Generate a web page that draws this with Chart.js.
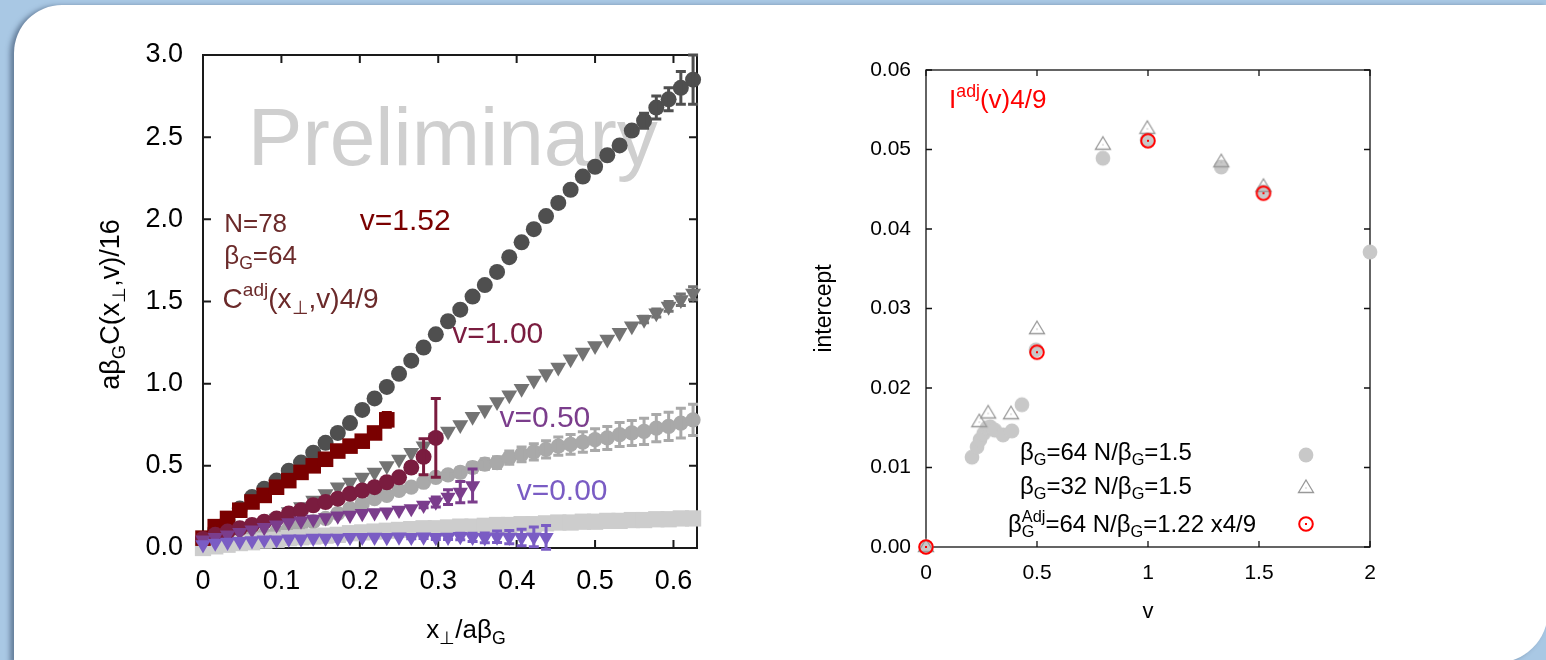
<!DOCTYPE html>
<html>
<head>
<meta charset="utf-8">
<script src="https://cdn.jsdelivr.net/npm/chart.js@4.4.1/dist/chart.umd.min.js"></script>
<style>
  html, body { margin: 0; padding: 0; width: 1546px; height: 660px; overflow: hidden; background: #a9c8e4; }
  #panel { position: absolute; left: 14px; top: 5px; width: 1534px; height: 658px; background: #fff;
           border-radius: 48px 0 52px 0; box-shadow: -4px 1px 5px rgba(45, 65, 95, 0.55); }
  #left { position: absolute; left: 0; top: 0; }
  #right { position: absolute; left: 780px; top: 0; }
</style>
</head>
<body>
<div id="panel"></div>
<canvas id="left" width="780" height="660"></canvas>
<canvas id="right" width="766" height="660"></canvas>
<script>
const FONT = '"Liberation Sans", Arial, Helvetica, sans-serif';

// ---- left panel: x_perp / a beta_G grid (steps of 1/64) ----
const xGrid = [0, 0.0156, 0.0313, 0.0469, 0.0625, 0.0781, 0.0938, 0.1094, 0.125, 0.1406,
  0.1563, 0.1719, 0.1875, 0.2031, 0.2188, 0.2344, 0.25, 0.2656, 0.2813, 0.2969,
  0.3125, 0.3281, 0.3438, 0.3594, 0.375, 0.3906, 0.4063, 0.4219, 0.4375, 0.4531,
  0.4688, 0.4844, 0.5, 0.5156, 0.5313, 0.5469, 0.5625, 0.5781, 0.5938, 0.6094, 0.625];

// fundamental correlators (grey)
const fund152 = [0.05, 0.11, 0.17, 0.24, 0.31, 0.36, 0.41, 0.47, 0.52, 0.58, 0.64, 0.70, 0.76, 0.84,
  0.91, 0.98, 1.06, 1.14, 1.22, 1.30, 1.38, 1.45, 1.53, 1.60, 1.68, 1.77, 1.86, 1.94, 2.02, 2.10,
  2.18, 2.26, 2.32, 2.39, 2.45, 2.54, 2.60, 2.68, 2.73, 2.80, 2.85];
const fund152Err = [0, 0, 0, 0, 0, 0, 0, 0, 0, 0, 0, 0, 0, 0, 0, 0, 0, 0, 0, 0, 0, 0, 0, 0, 0, 0, 0,
  0, 0, 0, 0, 0, 0, 0, 0, 0.03, 0.045, 0.07, 0.07, 0.10, 0.15];
const fund100 = [0.02, 0.04, 0.06, 0.09, 0.12, 0.15, 0.18, 0.22, 0.25, 0.29, 0.33, 0.37, 0.40, 0.43,
  0.46, 0.50, 0.54, 0.58, 0.62, 0.67, 0.71, 0.75, 0.80, 0.84, 0.89, 0.93, 0.97, 1.02, 1.06, 1.10,
  1.15, 1.19, 1.23, 1.27, 1.31, 1.35, 1.39, 1.43, 1.47, 1.51, 1.55];
const fund100Err = [0, 0, 0, 0, 0, 0, 0, 0, 0, 0, 0, 0, 0, 0, 0, 0, 0, 0, 0, 0, 0, 0, 0, 0, 0, 0, 0,
  0, 0, 0, 0, 0, 0, 0, 0, 0, 0.02, 0.025, 0.03, 0.035, 0.04];
const fund050 = [0.02, 0.03, 0.04, 0.05, 0.07, 0.08, 0.10, 0.12, 0.14, 0.16, 0.18, 0.21, 0.24, 0.27,
  0.30, 0.32, 0.35, 0.37, 0.40, 0.43, 0.445, 0.46, 0.49, 0.51, 0.52, 0.55, 0.57, 0.585, 0.60, 0.62,
  0.63, 0.645, 0.66, 0.67, 0.69, 0.70, 0.71, 0.73, 0.74, 0.76, 0.78];
const fund050Err = [0, 0, 0, 0, 0, 0, 0, 0, 0, 0, 0, 0, 0, 0, 0, 0, 0, 0, 0.02, 0.022, 0.025, 0.028,
  0.03, 0.033, 0.036, 0.04, 0.045, 0.05, 0.053, 0.056, 0.06, 0.063, 0.066, 0.07, 0.073, 0.076,
  0.08, 0.083, 0.086, 0.09, 0.095];
const fund000 = [0.00, 0.01, 0.02, 0.03, 0.035, 0.045, 0.05, 0.06, 0.065, 0.07, 0.075, 0.08, 0.09,
  0.095, 0.10, 0.105, 0.11, 0.115, 0.12, 0.12, 0.125, 0.13, 0.13, 0.135, 0.14, 0.14, 0.145, 0.145,
  0.15, 0.155, 0.155, 0.16, 0.16, 0.165, 0.165, 0.17, 0.17, 0.175, 0.175, 0.18, 0.18];

// adjoint correlators x 4/9 (coloured)
const adj152 = [0.06, 0.13, 0.18, 0.23, 0.28, 0.32, 0.37, 0.41, 0.46, 0.50, 0.54, 0.59, 0.62, 0.65, 0.70, 0.78];
const adj152Err = [0, 0, 0, 0, 0, 0, 0, 0, 0, 0, 0, 0, 0, 0.02, 0.03, 0.045];
const adj100 = [0.055, 0.08, 0.10, 0.12, 0.14, 0.16, 0.18, 0.21, 0.23, 0.26, 0.28, 0.30, 0.33, 0.35,
  0.37, 0.40, 0.43, 0.49, 0.555, 0.67];
const adj100Err = [0, 0, 0, 0, 0, 0, 0, 0, 0, 0, 0, 0, 0, 0, 0, 0, 0, 0.03, 0.11, 0.24];
const adj050 = [0.05, 0.065, 0.08, 0.095, 0.11, 0.125, 0.14, 0.155, 0.165, 0.175, 0.185, 0.195, 0.20,
  0.21, 0.215, 0.22, 0.23, 0.24, 0.26, 0.28, 0.31, 0.34, 0.38];
const adj050Err = [0, 0, 0, 0, 0, 0, 0, 0, 0, 0, 0, 0, 0, 0, 0, 0, 0, 0, 0.015, 0.03, 0.045, 0.065, 0.10];
const adj000 = [0.02, 0.03, 0.035, 0.04, 0.045, 0.05, 0.05, 0.055, 0.055, 0.06, 0.06, 0.06, 0.065,
  0.065, 0.066, 0.064, 0.067, 0.065, 0.068, 0.064, 0.066, 0.07, 0.065, 0.062, 0.068, 0.066, 0.064,
  0.068, 0.065];
const adj000Err = [0, 0, 0, 0, 0, 0, 0, 0, 0, 0, 0, 0, 0, 0, 0, 0, 0, 0.008, 0.01, 0.012, 0.015,
  0.02, 0.025, 0.03, 0.035, 0.04, 0.05, 0.06, 0.072];

// ---- right panel: intercept vs v ----
const b64V = [0, 0.207, 0.23, 0.243, 0.26, 0.275, 0.29, 0.31, 0.347, 0.387, 0.432, 0.495, 0.797, 0.995, 1.33, 1.52, 2.0];
const b64Y = [0, 0.0113, 0.0126, 0.0135, 0.0143, 0.015, 0.0151, 0.0147, 0.0141, 0.0146, 0.0179,
  0.0248, 0.0489, 0.0512, 0.0478, 0.0447, 0.0371];
const b32V = [0, 0.24, 0.28, 0.383, 0.5, 0.797, 0.997, 1.33, 1.52];
const b32Y = [0, 0.0157, 0.0168, 0.0167, 0.0274, 0.0506, 0.0526, 0.0484, 0.0453];
const adjV = [0, 0.5, 1.0, 1.52];
const adjY = [0, 0.0245, 0.0511, 0.0445];

const pts = (xs, ys) => ys.map((y, i) => ({ x: xs[i], y: y }));

// rich text with sub/superscripts: segments [text, mode, stackedSup]
function drawRich(ctx, segs, x, y, size, color, align) {
  const parts = segs.map(s => {
    const fs = s[1] ? size * 0.68 : size;
    ctx.font = fs + 'px ' + FONT;
    let w = ctx.measureText(s[0]).width;
    if (s[2]) w = Math.max(w, ctx.measureText(s[2]).width);
    return { t: s[0], m: s[1] || '', up: s[2], fs: fs, w: w };
  });
  const total = parts.reduce((a, p) => a + p.w, 0);
  let cx = align === 'center' ? x - total / 2 : (align === 'right' ? x - total : x);
  ctx.fillStyle = color;
  ctx.textAlign = 'left';
  ctx.textBaseline = 'alphabetic';
  parts.forEach(p => {
    ctx.font = p.fs + 'px ' + FONT;
    const dy = p.m === 'sub' ? size * 0.22 : (p.m === 'sup' ? -size * 0.42 : 0);
    ctx.fillText(p.t, cx, y + dy);
    if (p.up) ctx.fillText(p.up, cx, y - size * 0.42);
    cx += p.w;
  });
}

// canvas markers for the right panel
function makeMarker(draw) {
  const c = document.createElement('canvas');
  c.width = 20; c.height = 20;
  draw(c.getContext('2d'));
  return c;
}
const greyDot = makeMarker(g => {
  g.fillStyle = '#c8c8c8'; g.beginPath(); g.arc(10, 10, 7.4, 0, Math.PI * 2); g.fill();
});
const openTri = makeMarker(g => {
  g.strokeStyle = '#999999'; g.lineWidth = 1.3;
  g.beginPath(); g.moveTo(10, 2); g.lineTo(17.5, 14.5); g.lineTo(2.5, 14.5); g.closePath(); g.stroke();
  g.fillStyle = '#999999'; g.fillRect(9.5, 9.5, 1, 1);
});
const redRing = makeMarker(g => {
  g.strokeStyle = '#ff0000'; g.lineWidth = 2;
  g.beginPath(); g.arc(10, 10, 6.8, 0, Math.PI * 2); g.stroke();
  g.fillStyle = '#ff0000'; g.fillRect(9, 9, 2, 2);
});

// frame with inward ticks on all four sides (gnuplot look)
const framePlugin = {
  id: 'frame',
  beforeDatasetsDraw(chart, args, opts) {
    const { ctx, chartArea: a, scales: { x, y } } = chart;
    ctx.save();
    ctx.strokeStyle = opts.color;
    ctx.lineWidth = opts.width;
    ctx.strokeRect(a.left, a.top, a.right - a.left, a.bottom - a.top);
    ctx.beginPath();
    x.ticks.forEach(t => {
      const p = x.getPixelForValue(t.value);
      ctx.moveTo(p, a.bottom); ctx.lineTo(p, a.bottom - opts.len);
      ctx.moveTo(p, a.top); ctx.lineTo(p, a.top + opts.len);
    });
    y.ticks.forEach(t => {
      const p = y.getPixelForValue(t.value);
      ctx.moveTo(a.left, p); ctx.lineTo(a.left + opts.len, p);
      ctx.moveTo(a.right, p); ctx.lineTo(a.right - opts.len, p);
    });
    ctx.stroke();
    ctx.restore();
  }
};

const errorBarPlugin = {
  id: 'errorBars',
  afterDatasetDraw(chart, args) {
    const ds = chart.data.datasets[args.index];
    if (!ds.errors) return;
    const { ctx, scales: { x, y } } = chart;
    ctx.save();
    ctx.strokeStyle = ds.backgroundColor;
    ctx.lineWidth = 3;
    ds.data.forEach((p, i) => {
      const e = ds.errors[i];
      if (!e) return;
      const px = x.getPixelForValue(p.x);
      const y1 = y.getPixelForValue(p.y - e);
      const y2 = y.getPixelForValue(p.y + e);
      ctx.beginPath();
      ctx.moveTo(px, y1); ctx.lineTo(px, y2);
      ctx.moveTo(px - 5, y1); ctx.lineTo(px + 5, y1);
      ctx.moveTo(px - 5, y2); ctx.lineTo(px + 5, y2);
      ctx.stroke();
    });
    ctx.restore();
  }
};

// in-plot text, axis titles and hand-made legend
function notesPlugin(notes, titles, legend) {
  const drawNotes = (chart, under) => {
    const { ctx, scales: { x, y } } = chart;
    ctx.save();
    notes.filter(n => !!n.under === under).forEach(n => {
      drawRich(ctx, n.segs, x.getPixelForValue(n.x), y.getPixelForValue(n.y), n.size, n.color, 'left');
    });
    ctx.restore();
  };
  return {
    id: 'notes',
    beforeDatasetsDraw(chart) { drawNotes(chart, true); },
    afterDatasetsDraw(chart) { drawNotes(chart, false); },
    afterDraw(chart) {
      const { ctx, chartArea: a } = chart;
      ctx.save();
      titles.forEach(t => {
        if (t.rot) {
          ctx.save();
          ctx.translate(a.left + t.dx, (a.top + a.bottom) / 2 + t.dy);
          ctx.rotate(-Math.PI / 2);
          drawRich(ctx, t.segs, 0, 0, t.size, '#000', 'center');
          ctx.restore();
        } else {
          drawRich(ctx, t.segs, (a.left + a.right) / 2 + t.dx, a.bottom + t.dy, t.size, '#000', 'center');
        }
      });
      (legend || []).forEach(l => {
        drawRich(ctx, l.segs, a.left + l.tx, a.bottom + l.ty, 24, '#000', 'left');
        ctx.drawImage(l.marker, a.left + 380 - 10, a.bottom + l.my - 10);
      });
      ctx.restore();
    }
  };
}

const leftNotes = [
  { x: 0.057, y: 2.33, size: 82, color: '#cfcfcf', under: true, segs: [['Preliminary']] },
  { x: 0.027, y: 1.92, size: 26, color: '#6b2a2a', segs: [['N=78']] },
  { x: 0.027, y: 1.73, size: 26, color: '#6b2a2a', segs: [['β'], ['G', 'sub'], ['=64']] },
  { x: 0.025, y: 1.46, size: 28, color: '#6b2a2a', segs: [['C'], ['adj', 'sup'], ['(x'], ['⊥', 'sub'], [',v)4/9']] },
  { x: 0.2, y: 1.935, size: 30, color: '#7a0000', segs: [['v=1.52']] },
  { x: 0.318, y: 1.247, size: 30, color: '#7a1c3f', segs: [['v=1.00']] },
  { x: 0.378, y: 0.736, size: 30, color: '#7b3d8c', segs: [['v=0.50']] },
  { x: 0.40, y: 0.29, size: 30, color: '#7a5cc4', segs: [['v=0.00']] }
];
const leftTitles = [
  { rot: true, dx: -84, dy: 3, size: 27, segs: [['aβ'], ['G', 'sub'], ['C(x'], ['⊥', 'sub'], [',v)/16']] },
  { rot: false, dx: 16, dy: 90, size: 26, segs: [['x'], ['⊥', 'sub'], ['/aβ'], ['G', 'sub']] }
];
const rightNotes = [
  { x: 0.104, y: 0.0552, size: 26, color: '#ff0000', segs: [['I'], ['adj', 'sup'], ['(v)4/9']] }
];
const rightTitles = [
  { rot: true, dx: -95, dy: 0, size: 23, segs: [['intercept']] },
  { rot: false, dx: 0, dy: 71, size: 22, segs: [['v']] }
];
const rightLegend = [
  { tx: 94, ty: -87, my: -92, marker: greyDot, segs: [['β'], ['G', 'sub'], ['=64 N/β'], ['G', 'sub'], ['=1.5']] },
  { tx: 94, ty: -53, my: -59, marker: openTri, segs: [['β'], ['G', 'sub'], ['=32 N/β'], ['G', 'sub'], ['=1.5']] },
  { tx: 82, ty: -15, my: -23, marker: redRing, segs: [['β'], ['G', 'sub', 'Adj'], ['=64 N/β'], ['G', 'sub'], ['=1.22 x4/9']] }
];

function series(ys, color, style, radius, errors, rot) {
  return {
    data: pts(xGrid, ys), backgroundColor: color, borderColor: color, borderWidth: 0,
    pointStyle: style, pointRadius: radius, pointRotation: rot || 0, errors: errors, clip: false
  };
}

const tickFont = size => ({ family: FONT, size: size });

// first dataset is painted last (on top)
new Chart(document.getElementById('left'), {
  type: 'scatter',
  data: {
    datasets: [
      series(adj000, '#7a5cc4', 'triangle', 8.8, adj000Err, 180),
      series(adj050, '#7b3d8c', 'triangle', 8.8, adj050Err, 180),
      series(adj100, '#7a1c3f', 'circle', 8, adj100Err),
      series(adj152, '#7a0000', 'rect', 11, adj152Err),
      series(fund000, '#cdcdcd', 'rect', 11.5, null),
      series(fund050, '#a9a9a9', 'circle', 7.6, fund050Err),
      series(fund100, '#737373', 'triangle', 9.2, fund100Err, 180),
      series(fund152, '#4f4f4f', 'circle', 8, fund152Err)
    ]
  },
  options: {
    responsive: false, animation: false, events: [],
    layout: { padding: { top: 55, right: 83, left: 0, bottom: 0 } },
    plugins: { legend: { display: false }, tooltip: { enabled: false }, frame: { color: '#1a1a1a', width: 2, len: 8 } },
    scales: {
      x: {
        type: 'linear', min: 0, max: 0.63,
        afterFit: s => { s.height = 112; },
        grid: { display: false, drawTicks: false }, border: { display: false },
        ticks: { stepSize: 0.1, includeBounds: false, autoSkip: false, maxRotation: 0, padding: 17,
                 color: '#000', font: tickFont(27), callback: v => v === 0 ? '0' : v.toFixed(1) }
      },
      y: {
        type: 'linear', min: 0, max: 3,
        afterFit: s => { s.width = 203; },
        grid: { display: false, drawTicks: false }, border: { display: false },
        ticks: { stepSize: 0.5, includeBounds: false, padding: 20, color: '#000', font: tickFont(27),
                 callback: v => v.toFixed(1) }
      }
    }
  },
  plugins: [framePlugin, errorBarPlugin, notesPlugin(leftNotes, leftTitles)]
});

new Chart(document.getElementById('right'), {
  type: 'scatter',
  data: {
    datasets: [
      { data: pts(adjV, adjY), pointStyle: redRing, clip: false },
      { data: pts(b32V, b32Y), pointStyle: openTri, clip: false },
      { data: pts(b64V, b64Y), pointStyle: greyDot, clip: false }
    ]
  },
  options: {
    responsive: false, animation: false, events: [],
    layout: { padding: { top: 70, right: 176, left: 0, bottom: 0 } },
    plugins: { legend: { display: false }, tooltip: { enabled: false }, frame: { color: '#111', width: 1.3, len: 6 } },
    scales: {
      x: {
        type: 'linear', min: 0, max: 2,
        afterFit: s => { s.height = 113; },
        grid: { display: false, drawTicks: false }, border: { display: false },
        ticks: { stepSize: 0.5, autoSkip: false, maxRotation: 0, padding: 14, color: '#000',
                 font: tickFont(21), callback: v => String(v) }
      },
      y: {
        type: 'linear', min: 0, max: 0.06,
        afterFit: s => { s.width = 146; },
        grid: { display: false, drawTicks: false }, border: { display: false },
        ticks: { stepSize: 0.01, padding: 15, color: '#000', font: tickFont(21),
                 callback: v => v.toFixed(2) }
      }
    }
  },
  plugins: [framePlugin, notesPlugin(rightNotes, rightTitles, rightLegend)]
});
</script>
</body>
</html>
